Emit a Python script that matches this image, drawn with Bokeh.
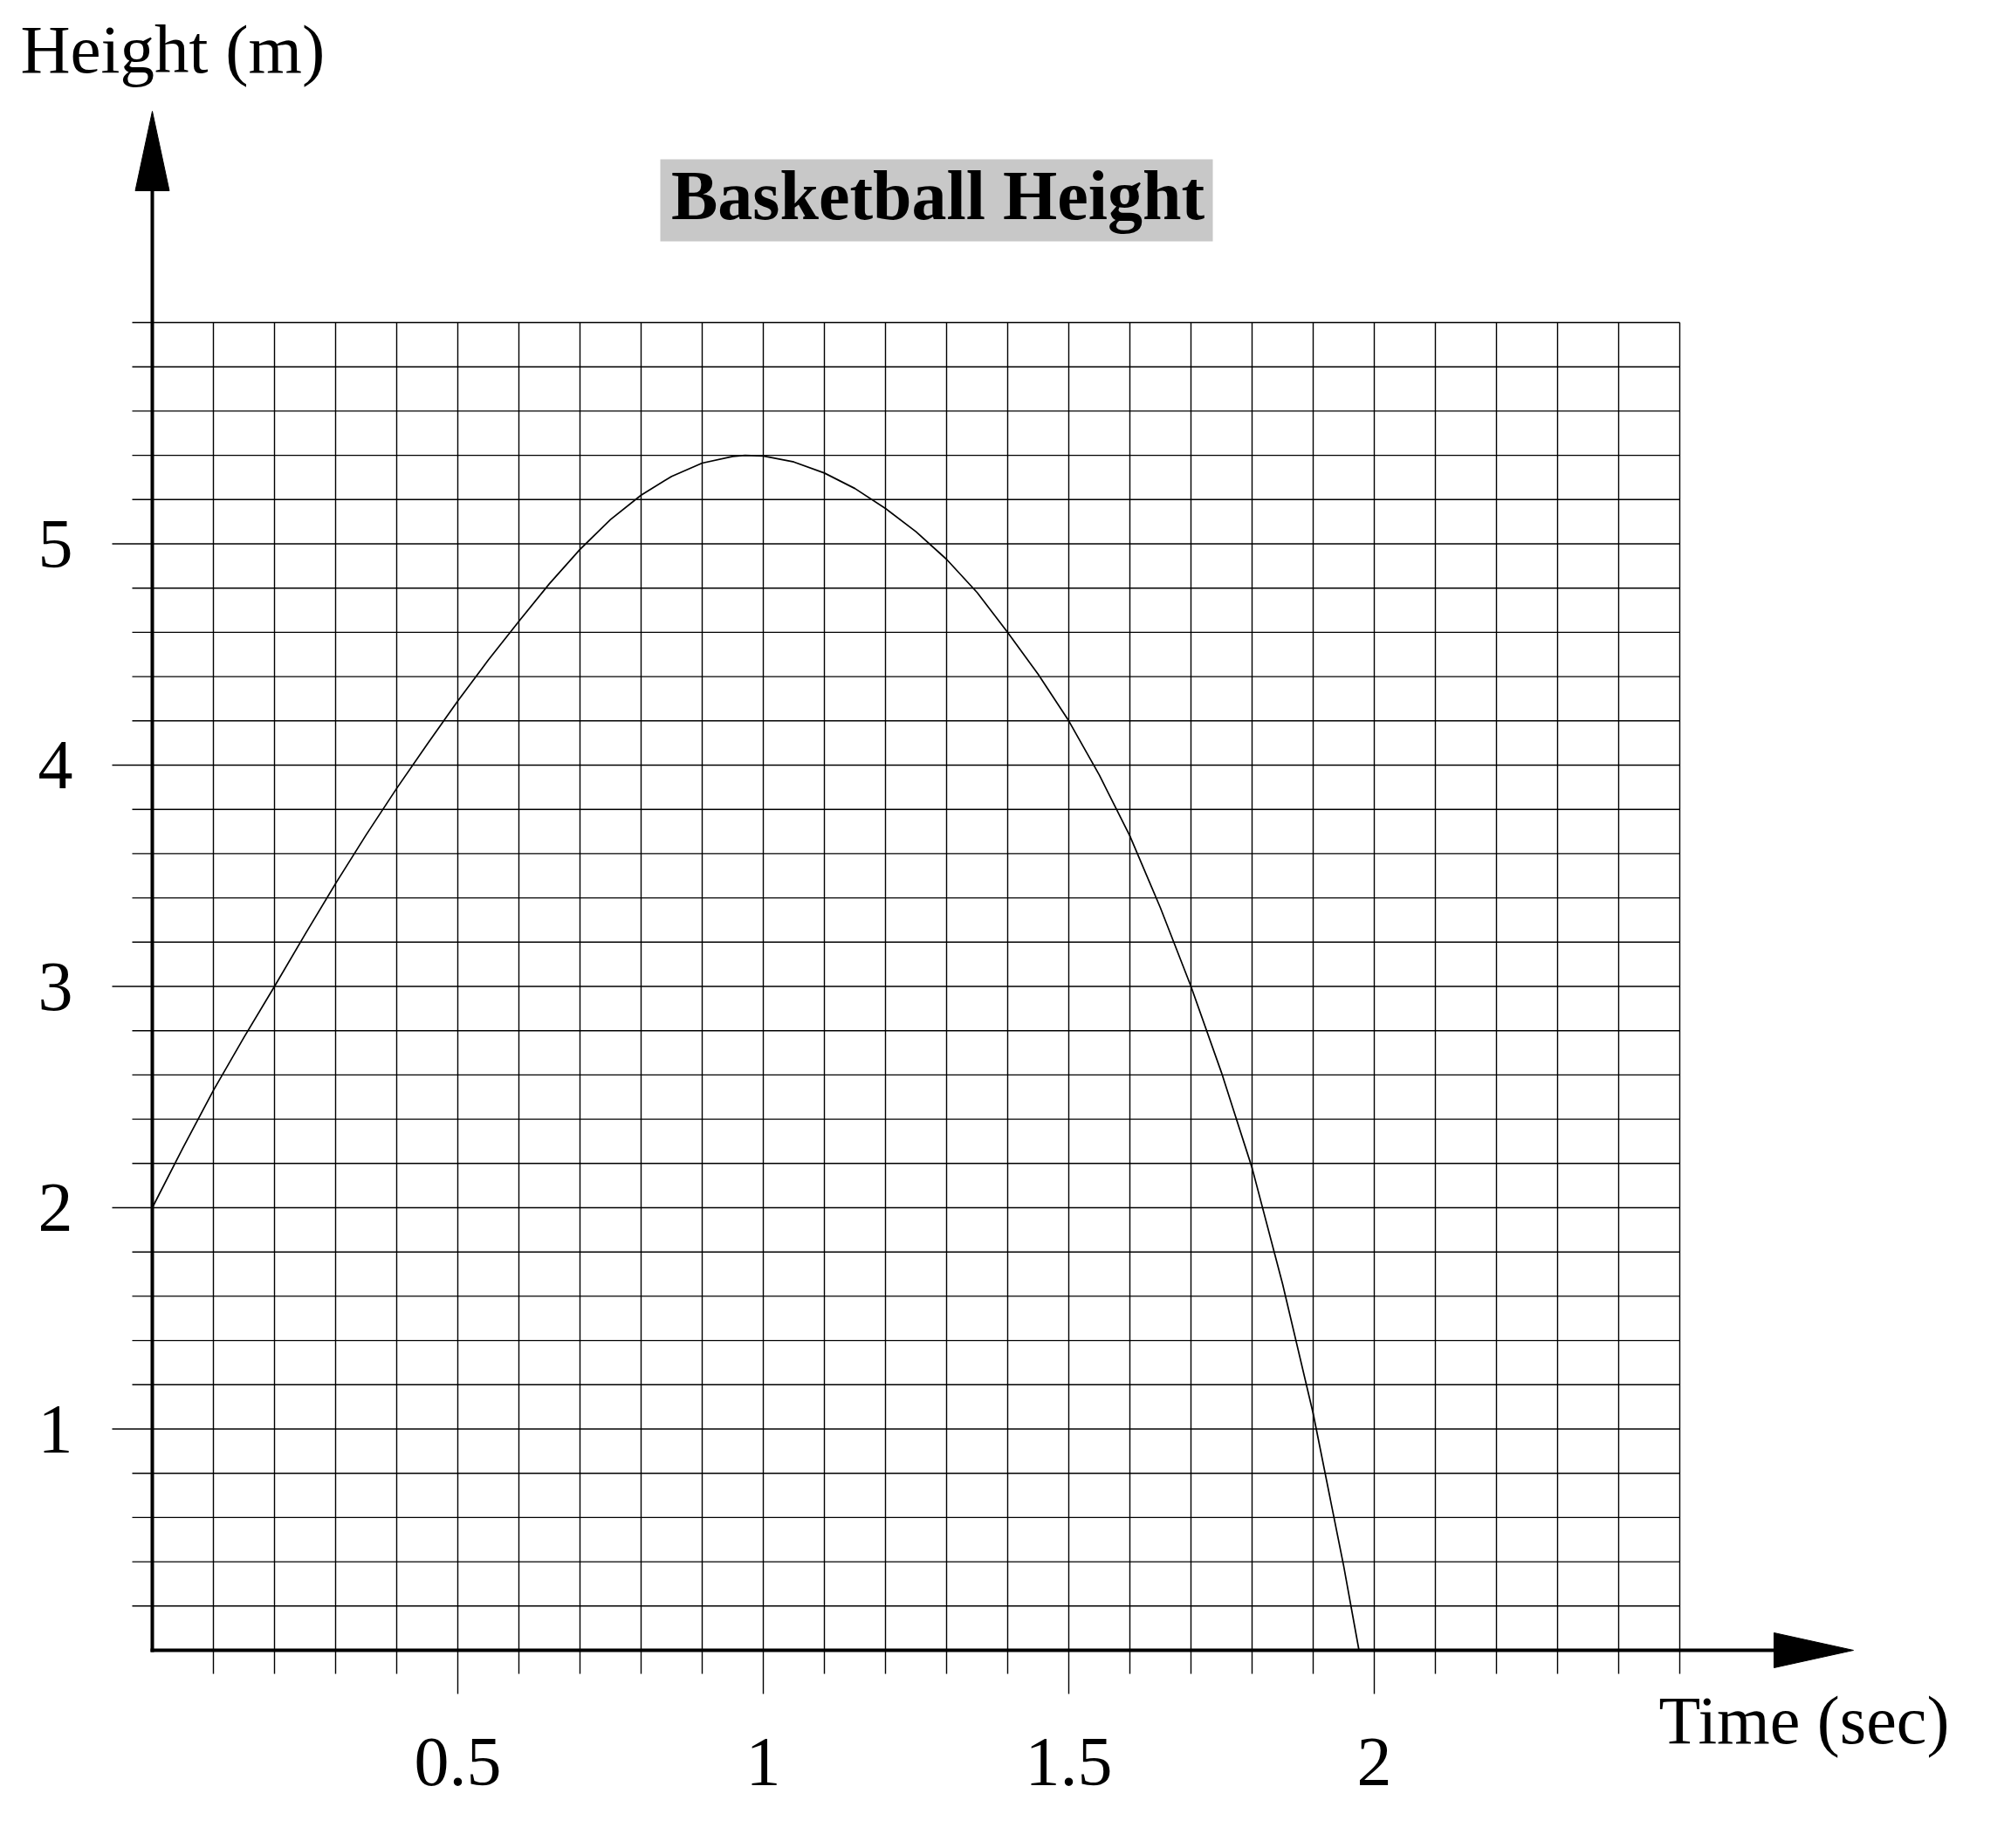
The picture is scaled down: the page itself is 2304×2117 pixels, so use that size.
import numpy as np
from bokeh.plotting import figure
from bokeh.models import Range1d
from bokeh.core.properties import value
from bokeh.embed import file_html
from bokeh.resources import INLINE

# ---- data: height of the basketball over time ----
time_s = [0.0, 0.05, 0.1, 0.15, 0.2, 0.25, 0.3, 0.35, 0.4, 0.45,
          0.5, 0.55, 0.6, 0.65, 0.7, 0.75, 0.8, 0.85, 0.9, 0.95,
          0.97, 1.0, 1.05, 1.1, 1.15, 1.2, 1.25, 1.3, 1.35, 1.4,
          1.45, 1.5, 1.55, 1.6, 1.65, 1.7, 1.75, 1.8, 1.85, 1.9,
          1.95, 1.975]
height_m = [2.0, 2.27, 2.53, 2.77, 3.0, 3.235, 3.465, 3.685, 3.895, 4.095,
            4.29, 4.475, 4.65, 4.82, 4.975, 5.11, 5.22, 5.305, 5.365, 5.395,
            5.40, 5.397, 5.37, 5.32, 5.25, 5.16, 5.055, 4.93, 4.78, 4.60,
            4.41, 4.20, 3.955, 3.68, 3.355, 3.00, 2.61, 2.18, 1.655, 1.07,
            0.38, 0.0]

# ---- axes: grid lines, labelled ticks ----
x_grid = [round(0.1 * i, 1) for i in range(1, 26)]   # 0.1 .. 2.5 s
y_grid = [round(0.2 * i, 1) for i in range(1, 31)]   # 0.2 .. 6.0 m
x_ticks = [0.5, 1.0, 1.5, 2.0]
y_ticks = [1, 2, 3, 4, 5]
x_tick_labels = ["0.5", "1", "1.5", "2"]
y_tick_labels = ["1", "2", "3", "4", "5"]

title_text = "Basketball Height"
x_title = "Time (sec)"
y_title = "Height (m)"

# ---- page geometry (screen pixels) ----
W, H = 2304, 2117
PX_PER_S = 700.0
PX_PER_M = 253.5
X0_PX = 174.0     # screen x of t = 0
Y0_PX = 1890.0    # screen y of h = 0
TEXT_LIFT = 27.0  # baseline correction for the text glyphs


def sx(px):
    return (px - X0_PX) / PX_PER_S


def sy(py):
    return (Y0_PX - py) / PX_PER_M


def dt(px):
    return px / PX_PER_S


def dh(px):
    return px / PX_PER_M


def base(py):
    """data y for a text baseline drawn at screen row py"""
    return sy(py - TEXT_LIFT)


p = figure(width=W, height=H,
           x_range=Range1d(sx(0), sx(W)), y_range=Range1d(sy(H), sy(0)),
           output_backend="svg", toolbar_location=None,
           x_axis_location=None, y_axis_location=None, min_border=0)
p.grid.visible = False
p.outline_line_color = None
p.background_fill_color = "white"
p.border_fill_color = "white"

FONT = value("Liberation Serif")
GRID_COLOR = "black"
GRID_W = 1.4
x_max = x_grid[-1]
y_max = y_grid[-1]

# vertical grid lines, continuing below the axis as ticks
vx = list(x_grid)
vy0 = [-(dh(50) if any(abs(v - m) < 1e-9 for m in x_ticks) else dh(27)) for v in x_grid]
vy1 = [y_max] * len(x_grid)
p.segment(x0=vx, y0=vy0, x1=vx, y1=vy1, line_color=GRID_COLOR, line_width=GRID_W)

# horizontal grid lines, continuing left of the axis as ticks
hy = list(y_grid)
hx0 = [-(dt(46) if any(abs(v - m) < 1e-9 for m in y_ticks) else dt(23)) for v in y_grid]
hx1 = [x_max] * len(y_grid)
p.segment(x0=hx0, y0=hy, x1=hx1, y1=hy, line_color=GRID_COLOR, line_width=GRID_W)

# the trajectory
p.line(time_s, height_m, line_color="black", line_width=1.7, line_join="round")

# axis lines with arrow heads
p.segment(x0=[-dt(2)], y0=[0], x1=[sx(2040)], y1=[0], line_color="black", line_width=4)
p.segment(x0=[0], y0=[-dh(2)], x1=[0], y1=[sy(210)], line_color="black", line_width=4)
p.patches(xs=[[sx(2032), sx(2032), sx(2123)], [-dt(19.5), dt(19.5), 0]],
          ys=[[dh(20), -dh(20), 0], [sy(218), sy(218), sy(127)]],
          fill_color="black", line_color="black", line_width=1)

# tick labels
p.text(x=x_ticks, y=[base(2045)] * len(x_ticks), text=x_tick_labels,
       text_align="center", text_baseline="alphabetic",
       text_font=FONT, text_font_size="80px", text_color="black")
p.text(x=[sx(83)] * len(y_ticks), y=[v - dh(27 - TEXT_LIFT) for v in y_ticks],
       text=y_tick_labels, text_align="right", text_baseline="alphabetic",
       text_font=FONT, text_font_size="80px", text_color="black")

# axis titles
p.text(x=[sx(23)], y=[base(83)], text=[y_title], text_align="left",
       text_baseline="alphabetic", text_font=FONT, text_font_size="79px",
       text_color="black")
p.text(x=[sx(1900)], y=[base(1997)], text=[x_title], text_align="left",
       text_baseline="alphabetic", text_font=FONT, text_font_size="78px",
       text_color="black")

# chart title on a grey band
p.quad(left=[sx(756)], right=[sx(1389)], top=[sy(182)], bottom=[sy(276)],
       fill_color="#c8c8c8", line_color=None)
p.text(x=[sx(1074)], y=[base(250)], text=[title_text], text_align="center",
       text_baseline="alphabetic", text_font=FONT, text_font_style="bold",
       text_font_size="80px", text_color="black")

open("out.html", "w").write(file_html(p, INLINE))
